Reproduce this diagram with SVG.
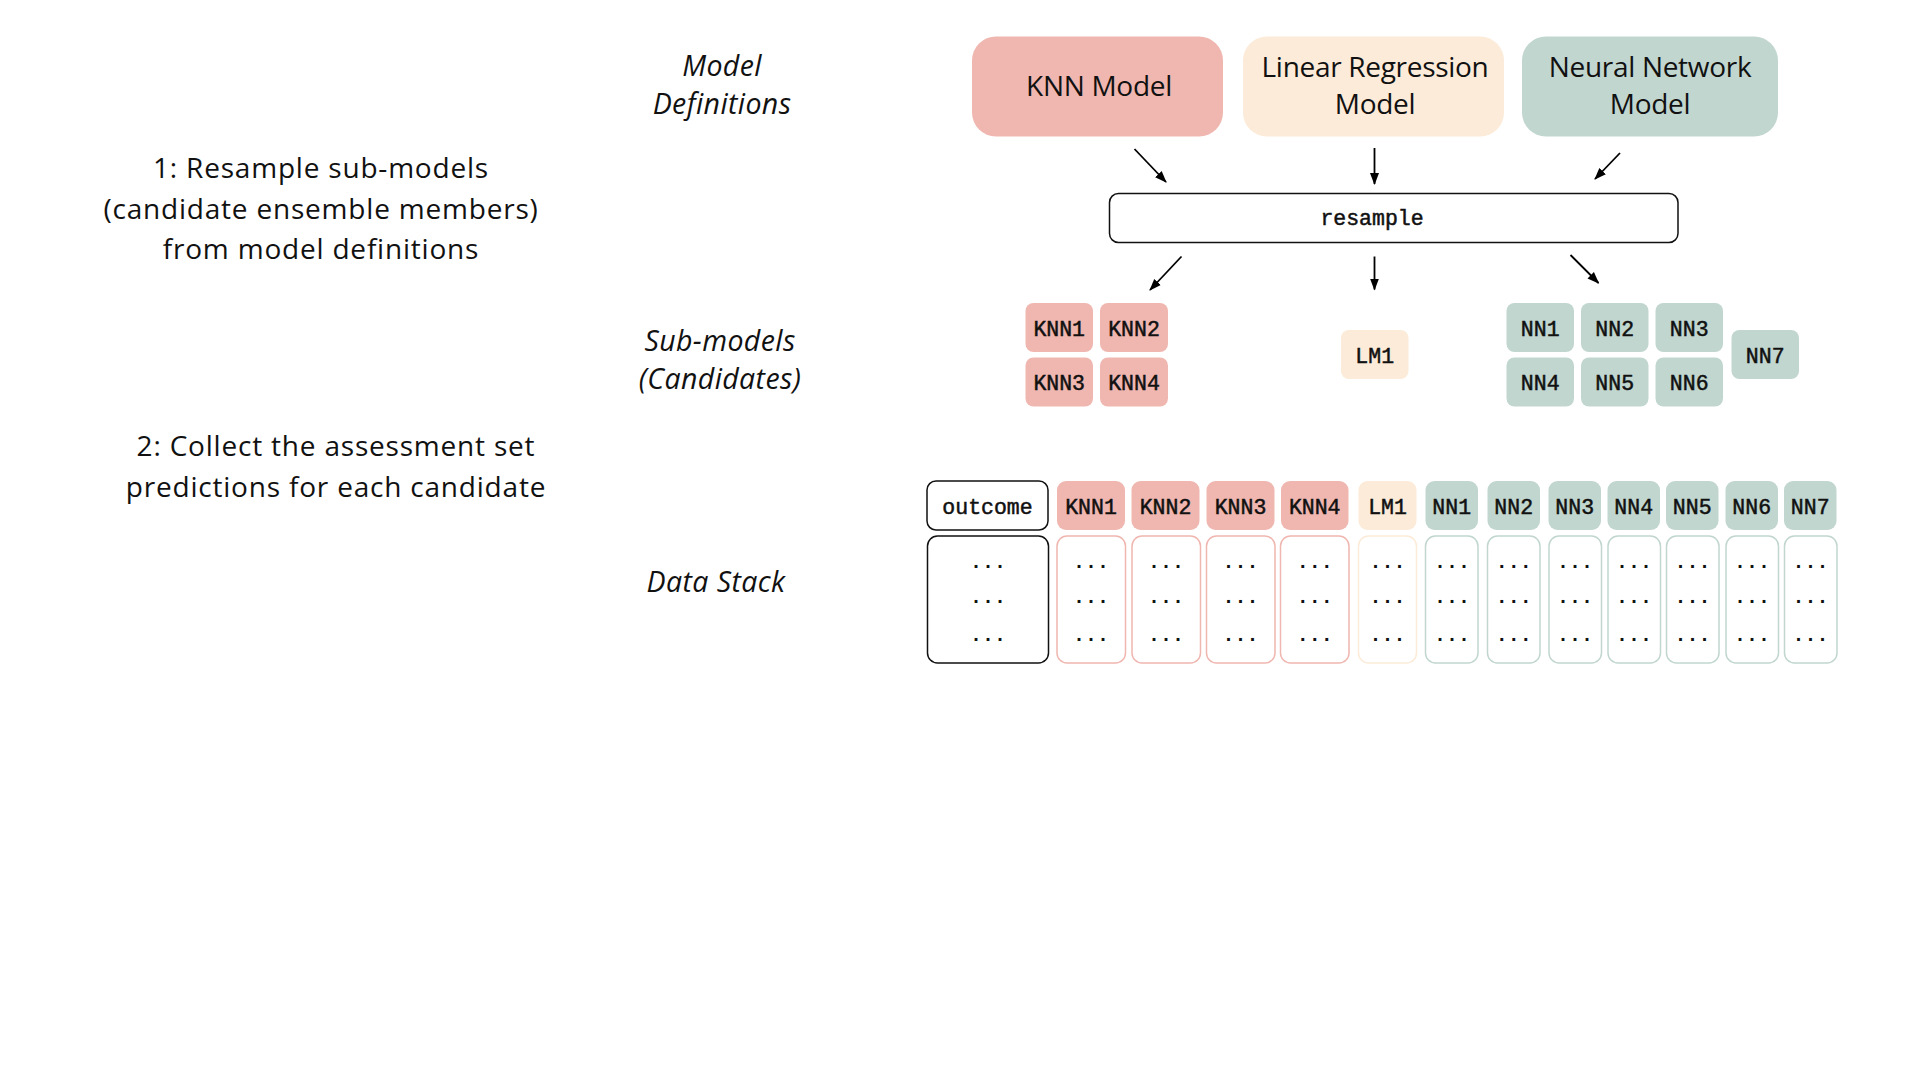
<svg xmlns="http://www.w3.org/2000/svg" width="1920" height="1080" viewBox="0 0 1920 1080">
<defs>
<marker id="ah" markerUnits="userSpaceOnUse" markerWidth="12" markerHeight="12" viewBox="0 0 12 12" refX="11" refY="6" orient="auto">
<path d="M0,1.5 L12,6 L0,10.5 Z" fill="#000"/>
</marker>
</defs>
<style>
.sans{font-family:"Open Sans","Noto Sans","Liberation Sans",sans-serif;fill:#111;}
.step{font-size:28px;letter-spacing:0.8px;text-anchor:middle;}
.lbl{font-size:28.5px;letter-spacing:0.4px;font-style:italic;text-anchor:middle;}
.big{font-size:28px;letter-spacing:-0.3px;text-anchor:middle;}
.mono{font-family:"Liberation Mono","Courier New",monospace;font-size:21.5px;fill:#111;stroke:#111;stroke-width:0.5;text-anchor:middle;}
.dots{font-family:"Liberation Mono","Courier New",monospace;font-size:20px;fill:#111;text-anchor:middle;font-weight:bold;}
.knn{fill:#F0B7B0;}
.lm{fill:#FCEBD8;}
.nn{fill:#C1D6CF;}
.bknn{fill:#fff;stroke:#F0B7B0;stroke-width:1.5;}
.blm{fill:#fff;stroke:#FCEBD8;stroke-width:1.5;}
.bnn{fill:#fff;stroke:#C1D6CF;stroke-width:1.5;}
.bout{fill:#fff;stroke:#111;stroke-width:1.5;}
.arr{stroke:#000;stroke-width:1.8;fill:none;marker-end:url(#ah);}
</style>
<rect width="1920" height="1080" fill="#fff"/>

<g id="step1">
<text class="sans step" x="321" y="178">1: Resample sub-models</text>
<text class="sans step" x="321" y="219">(candidate ensemble members)</text>
<text class="sans step" x="321" y="259">from model definitions</text>
</g>
<g id="step2">
<text class="sans step" x="336" y="456">2: Collect the assessment set</text>
<text class="sans step" x="336" y="497">predictions for each candidate</text>
</g>

<g id="label-model-defs">
<text class="sans lbl" x="722" y="76">Model</text>
<text class="sans lbl" x="722" y="114">Definitions</text>
</g>
<g id="label-submodels">
<text class="sans lbl" x="720" y="351">Sub-models</text>
<text class="sans lbl" x="720" y="389">(Candidates)</text>
</g>
<g id="label-datastack">
<text class="sans lbl" x="716" y="592">Data Stack</text>
</g>

<g id="knn-model">
<rect class="knn" x="972" y="36.5" width="251" height="100" rx="24"/>
<text class="sans big" x="1099" y="96">KNN Model</text>
</g>
<g id="lr-model">
<rect class="lm" x="1243" y="36.5" width="261" height="100" rx="24"/>
<text class="sans big" x="1375" y="77">Linear Regression</text>
<text class="sans big" x="1375" y="114">Model</text>
</g>
<g id="nn-model">
<rect class="nn" x="1522" y="36.5" width="256" height="100" rx="24"/>
<text class="sans big" x="1650" y="77">Neural Network</text>
<text class="sans big" x="1650" y="114">Model</text>
</g>

<g id="resample">
<rect x="1109.5" y="193.5" width="568.5" height="49" rx="9" fill="#fff" stroke="#111" stroke-width="1.5"/>
<text class="mono" x="1372" y="225">resample</text>
</g>

<g id="connectors">
<line class="arr" x1="1134.5" y1="149" x2="1166" y2="182"/>
<line class="arr" x1="1374.5" y1="148" x2="1374.5" y2="184"/>
<line class="arr" x1="1620" y1="153" x2="1595" y2="179"/>
<line class="arr" x1="1181.5" y1="256.5" x2="1150" y2="290"/>
<line class="arr" x1="1374.5" y1="256.5" x2="1374.5" y2="289.5"/>
<line class="arr" x1="1570.5" y1="255" x2="1598.5" y2="283"/>
</g>

<g id="sub-KNN1"><rect class="knn" x="1025.5" y="303" width="67.5" height="49" rx="8"/><text class="mono" x="1059.2" y="335.5">KNN1</text></g>
<g id="sub-KNN2"><rect class="knn" x="1100" y="303" width="68" height="49" rx="8"/><text class="mono" x="1134" y="335.5">KNN2</text></g>
<g id="sub-KNN3"><rect class="knn" x="1025.5" y="357.5" width="67.5" height="49" rx="8"/><text class="mono" x="1059.2" y="390">KNN3</text></g>
<g id="sub-KNN4"><rect class="knn" x="1100" y="357.5" width="68" height="49" rx="8"/><text class="mono" x="1134" y="390">KNN4</text></g>
<g id="sub-LM1"><rect class="lm" x="1341" y="330" width="67.5" height="49" rx="8"/><text class="mono" x="1374.7" y="362.5">LM1</text></g>
<g id="sub-NN1"><rect class="nn" x="1506.5" y="303" width="67.5" height="49" rx="8"/><text class="mono" x="1540.2" y="335.5">NN1</text></g>
<g id="sub-NN2"><rect class="nn" x="1581" y="303" width="67.5" height="49" rx="8"/><text class="mono" x="1614.7" y="335.5">NN2</text></g>
<g id="sub-NN3"><rect class="nn" x="1655.5" y="303" width="67.5" height="49" rx="8"/><text class="mono" x="1689.2" y="335.5">NN3</text></g>
<g id="sub-NN4"><rect class="nn" x="1506.5" y="357.5" width="67.5" height="49" rx="8"/><text class="mono" x="1540.2" y="390">NN4</text></g>
<g id="sub-NN5"><rect class="nn" x="1581" y="357.5" width="67.5" height="49" rx="8"/><text class="mono" x="1614.7" y="390">NN5</text></g>
<g id="sub-NN6"><rect class="nn" x="1655.5" y="357.5" width="67.5" height="49" rx="8"/><text class="mono" x="1689.2" y="390">NN6</text></g>
<g id="sub-NN7"><rect class="nn" x="1731.5" y="330" width="67.5" height="49" rx="8"/><text class="mono" x="1765.2" y="362.5">NN7</text></g>

<g id="col-outcome">
<rect class="bout" x="927" y="481" width="121" height="49" rx="9"/><text class="mono" x="987.5" y="514">outcome</text>
<rect class="bout" x="927.5" y="536" width="121" height="127" rx="10"/>
<text class="dots" x="988" y="568">...</text><text class="dots" x="988" y="602.5">...</text><text class="dots" x="988" y="640.5">...</text>
</g>
<g id="col-KNN1">
<rect class="knn" x="1057" y="481" width="68" height="49" rx="9"/><text class="mono" x="1091" y="514">KNN1</text>
<rect class="bknn" x="1057" y="536" width="68.5" height="127" rx="10"/>
<text class="dots" x="1091" y="568">...</text><text class="dots" x="1091" y="602.5">...</text><text class="dots" x="1091" y="640.5">...</text>
</g>
<g id="col-KNN2">
<rect class="knn" x="1131.5" y="481" width="68" height="49" rx="9"/><text class="mono" x="1165.5" y="514">KNN2</text>
<rect class="bknn" x="1132" y="536" width="68.5" height="127" rx="10"/>
<text class="dots" x="1166" y="568">...</text><text class="dots" x="1166" y="602.5">...</text><text class="dots" x="1166" y="640.5">...</text>
</g>
<g id="col-KNN3">
<rect class="knn" x="1206.5" y="481" width="68" height="49" rx="9"/><text class="mono" x="1240.5" y="514">KNN3</text>
<rect class="bknn" x="1206.5" y="536" width="68.5" height="127" rx="10"/>
<text class="dots" x="1240.5" y="568">...</text><text class="dots" x="1240.5" y="602.5">...</text><text class="dots" x="1240.5" y="640.5">...</text>
</g>
<g id="col-KNN4">
<rect class="knn" x="1281" y="481" width="67.5" height="49" rx="9"/><text class="mono" x="1314.7" y="514">KNN4</text>
<rect class="bknn" x="1280.5" y="536" width="68.5" height="127" rx="10"/>
<text class="dots" x="1314.7" y="568">...</text><text class="dots" x="1314.7" y="602.5">...</text><text class="dots" x="1314.7" y="640.5">...</text>
</g>
<g id="col-LM1">
<rect class="lm" x="1358.5" y="481" width="58" height="49" rx="9"/><text class="mono" x="1387.5" y="514">LM1</text>
<rect class="blm" x="1358.5" y="536" width="58" height="127" rx="10"/>
<text class="dots" x="1387.5" y="568">...</text><text class="dots" x="1387.5" y="602.5">...</text><text class="dots" x="1387.5" y="640.5">...</text>
</g>
<g id="col-NN1">
<rect class="nn" x="1425.5" y="481" width="52.5" height="49" rx="9"/><text class="mono" x="1451.7" y="514">NN1</text>
<rect class="bnn" x="1425.5" y="536" width="52.5" height="127" rx="10"/>
<text class="dots" x="1452" y="568">...</text><text class="dots" x="1452" y="602.5">...</text><text class="dots" x="1452" y="640.5">...</text>
</g>
<g id="col-NN2">
<rect class="nn" x="1487.5" y="481" width="52.5" height="49" rx="9"/><text class="mono" x="1513.7" y="514">NN2</text>
<rect class="bnn" x="1487.5" y="536" width="52.5" height="127" rx="10"/>
<text class="dots" x="1513.7" y="568">...</text><text class="dots" x="1513.7" y="602.5">...</text><text class="dots" x="1513.7" y="640.5">...</text>
</g>
<g id="col-NN3">
<rect class="nn" x="1548.5" y="481" width="52.5" height="49" rx="9"/><text class="mono" x="1574.7" y="514">NN3</text>
<rect class="bnn" x="1549" y="536" width="52.5" height="127" rx="10"/>
<text class="dots" x="1575" y="568">...</text><text class="dots" x="1575" y="602.5">...</text><text class="dots" x="1575" y="640.5">...</text>
</g>
<g id="col-NN4">
<rect class="nn" x="1607.5" y="481" width="52.5" height="49" rx="9"/><text class="mono" x="1633.7" y="514">NN4</text>
<rect class="bnn" x="1608" y="536" width="52.5" height="127" rx="10"/>
<text class="dots" x="1634" y="568">...</text><text class="dots" x="1634" y="602.5">...</text><text class="dots" x="1634" y="640.5">...</text>
</g>
<g id="col-NN5">
<rect class="nn" x="1666" y="481" width="52.5" height="49" rx="9"/><text class="mono" x="1692.2" y="514">NN5</text>
<rect class="bnn" x="1666.5" y="536" width="52.5" height="127" rx="10"/>
<text class="dots" x="1692.5" y="568">...</text><text class="dots" x="1692.5" y="602.5">...</text><text class="dots" x="1692.5" y="640.5">...</text>
</g>
<g id="col-NN6">
<rect class="nn" x="1725.5" y="481" width="52.5" height="49" rx="9"/><text class="mono" x="1751.7" y="514">NN6</text>
<rect class="bnn" x="1726" y="536" width="52.5" height="127" rx="10"/>
<text class="dots" x="1752" y="568">...</text><text class="dots" x="1752" y="602.5">...</text><text class="dots" x="1752" y="640.5">...</text>
</g>
<g id="col-NN7">
<rect class="nn" x="1784" y="481" width="52.5" height="49" rx="9"/><text class="mono" x="1810.2" y="514">NN7</text>
<rect class="bnn" x="1784.5" y="536" width="52.5" height="127" rx="10"/>
<text class="dots" x="1810.5" y="568">...</text><text class="dots" x="1810.5" y="602.5">...</text><text class="dots" x="1810.5" y="640.5">...</text>
</g>
</svg>
